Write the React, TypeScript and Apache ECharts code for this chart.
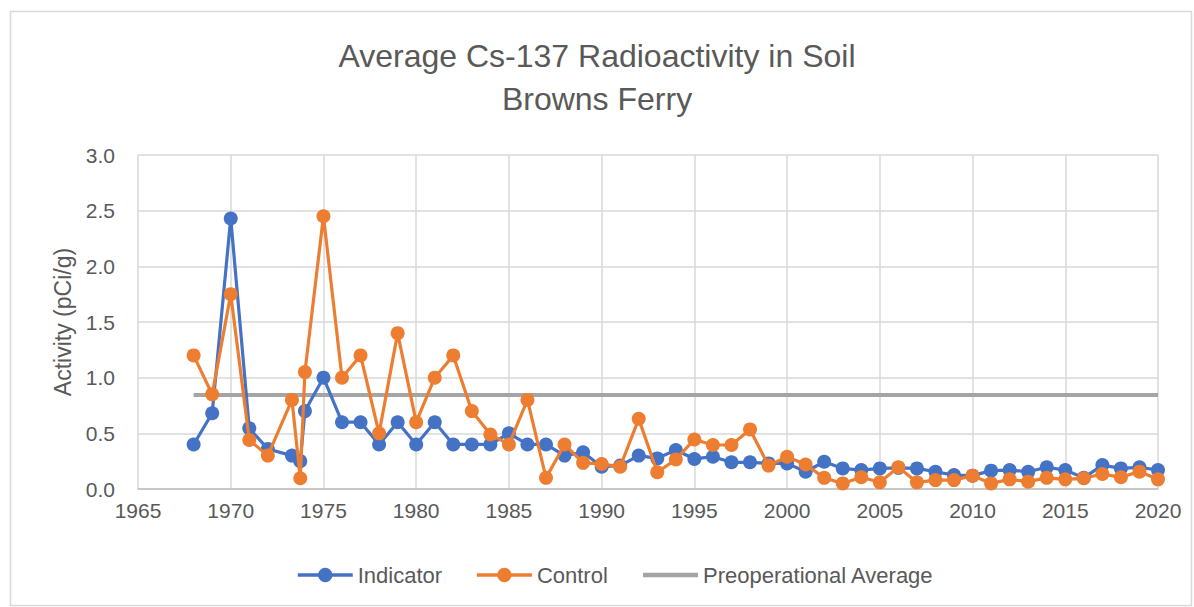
import React, { useEffect, useRef } from "react";
import * as echarts from "echarts";

const years: number[] = [
  1968, 1969, 1970, 1971, 1972, 1973.3, 1973.75, 1974, 1975, 1976, 1977, 1978, 1979, 1980,
  1981, 1982, 1983, 1984, 1985, 1986, 1987, 1988, 1989, 1990, 1991, 1992, 1993, 1994,
  1995, 1996, 1997, 1998, 1999, 2000, 2001, 2002, 2003, 2004, 2005, 2006, 2007, 2008,
  2009, 2010, 2011, 2012, 2013, 2014, 2015, 2016, 2017, 2018, 2019, 2020,
];

const indicator: number[] = [
  0.4, 0.68, 2.43, 0.545, 0.36, 0.3, 0.25, 0.7, 1.0, 0.6, 0.6, 0.4, 0.6, 0.4,
  0.6, 0.4, 0.4, 0.4, 0.5, 0.4, 0.4, 0.3, 0.33, 0.2, 0.21, 0.3, 0.275, 0.35,
  0.27, 0.29, 0.24, 0.24, 0.23, 0.23, 0.155, 0.245, 0.185, 0.17, 0.185, 0.19, 0.185, 0.155,
  0.125, 0.12, 0.165, 0.17, 0.155, 0.195, 0.17, 0.1, 0.215, 0.185, 0.195, 0.17,
];

const control: number[] = [
  1.2, 0.85, 1.75, 0.44, 0.3, 0.8, 0.096, 1.05, 2.45, 1.0, 1.2, 0.5, 1.4, 0.6,
  1.0, 1.2, 0.7, 0.49, 0.4, 0.8, 0.1, 0.4, 0.235, 0.225, 0.2, 0.63, 0.15, 0.265,
  0.445, 0.395, 0.395, 0.535, 0.21, 0.29, 0.22, 0.1, 0.05, 0.105, 0.06, 0.195, 0.06, 0.08,
  0.08, 0.12, 0.05, 0.087, 0.066, 0.1, 0.087, 0.096, 0.135, 0.105, 0.156, 0.087,
];

const preopYears: number[] = [1968, 2020];
const preopAverage: number[] = [0.845, 0.845];

const titleLines: string[] = ["Average Cs-137 Radioactivity in Soil", "Browns Ferry"];
const seriesNames: string[] = ["Indicator", "Control", "Preoperational Average"];

const FONT = "'Liberation Sans', Arial, sans-serif";
const TEXT = "#595959";

export default function App() {
  const ref = useRef<HTMLDivElement>(null);

  useEffect(() => {
    if (!ref.current) return;
    const chart = echarts.init(ref.current, undefined, { renderer: "svg" });
    const pairs = (xs: number[], ys: number[]) => xs.map((x, i) => [x, ys[i]]);
    chart.setOption({
      animation: false,
      backgroundColor: "#ffffff",
      textStyle: { fontFamily: FONT, color: TEXT },
      title: {
        text: titleLines.join("\n"),
        left: "center",
        top: 29,
        textStyle: {
          fontFamily: FONT,
          fontSize: 32,
          fontWeight: "normal",
          color: TEXT,
          lineHeight: 43,
        },
      },
      graphic: [
        {
          type: "rect",
          shape: { x: 10.5, y: 11.5, width: 1181, height: 594 },
          style: { fill: "none", stroke: "#d9d9d9", lineWidth: 1.5 },
          silent: true,
        },
      ],
      legend: {
        left: 296,
        top: 564,
        padding: 0,
        itemWidth: 55,
        itemHeight: 18,
        itemGap: 33,
        textStyle: { fontFamily: FONT, fontSize: 22, color: TEXT },
        data: [
          { name: seriesNames[0], lineStyle: { width: 3.5 } },
          { name: seriesNames[1], lineStyle: { width: 3.5 } },
          { name: seriesNames[2], itemStyle: { opacity: 0 }, lineStyle: { width: 4.5 } },
        ],
      },
      grid: { left: 138, right: 36, top: 155, bottom: 118, containLabel: false },
      xAxis: {
        type: "value",
        min: 1965,
        max: 2020,
        interval: 5,
        axisLine: { show: true, lineStyle: { color: "#bfbfbf", width: 1.5 } },
        axisTick: { show: false },
        splitLine: { show: true, lineStyle: { color: "#d9d9d9", width: 1.5 } },
        axisLabel: {
          formatter: (v: number) => String(v),
          fontFamily: FONT,
          fontSize: 21,
          color: TEXT,
          margin: 11,
        },
      },
      yAxis: {
        type: "value",
        min: 0,
        max: 3,
        interval: 0.5,
        name: "Activity (pCi/g)",
        nameLocation: "middle",
        nameGap: 64,
        nameTextStyle: { fontFamily: FONT, fontSize: 23, color: TEXT },
        axisLine: { show: false },
        axisTick: { show: false },
        splitLine: { show: true, lineStyle: { color: "#d9d9d9", width: 1.5 } },
        axisLabel: {
          formatter: (v: number) => v.toFixed(1),
          fontFamily: FONT,
          fontSize: 21,
          color: TEXT,
          margin: 23,
        },
      },
      series: [
        {
          name: seriesNames[2],
          type: "line",
          data: pairs(preopYears, preopAverage),
          symbol: "none",
          lineStyle: { color: "#a5a5a5", width: 4 },
          itemStyle: { color: "#a5a5a5" },
          z: 1,
        },
        {
          name: seriesNames[0],
          type: "line",
          data: pairs(years, indicator),
          symbol: "circle",
          symbolSize: 14,
          lineStyle: { color: "#4472c4", width: 3.2 },
          itemStyle: { color: "#4472c4" },
          z: 2,
        },
        {
          name: seriesNames[1],
          type: "line",
          data: pairs(years, control),
          symbol: "circle",
          symbolSize: 14,
          lineStyle: { color: "#ed7d31", width: 3.2 },
          itemStyle: { color: "#ed7d31" },
          z: 3,
        },
      ],
    });
    return () => chart.dispose();
  }, []);

  return (
    <div
      ref={ref}
      style={{ position: "absolute", left: 0, top: 0, width: 1194, height: 607 }}
    />
  );
}
